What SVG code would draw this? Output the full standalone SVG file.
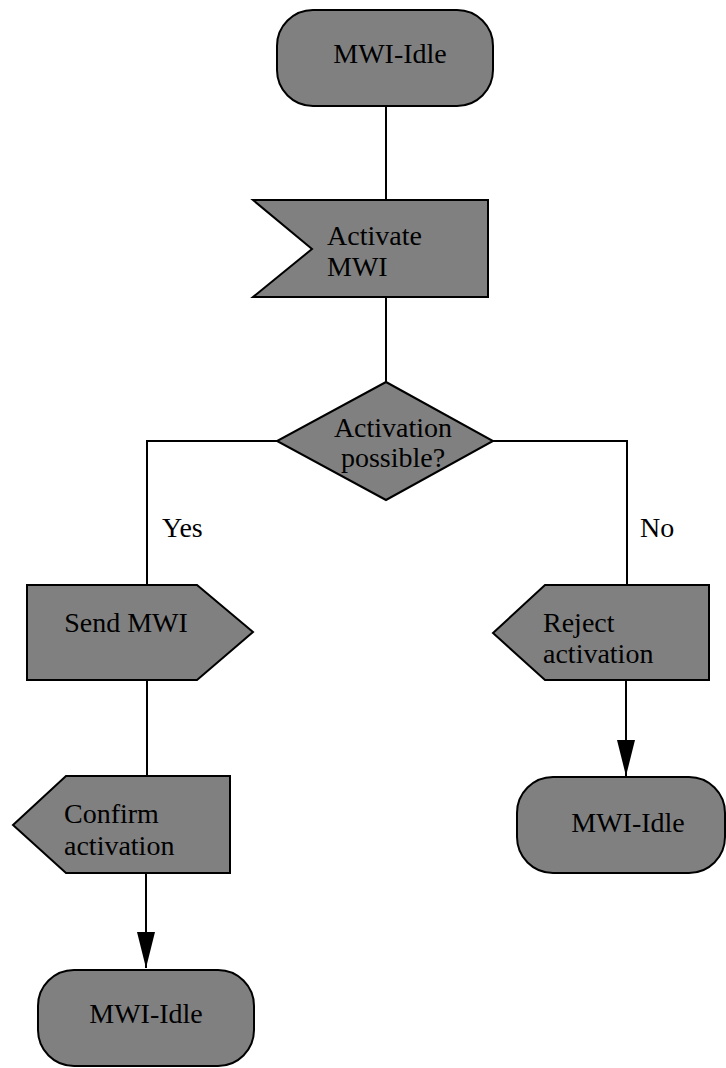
<svg xmlns="http://www.w3.org/2000/svg" width="726" height="1068" viewBox="0 0 726 1068">
<style>
.n{fill:#808080;stroke:#000;stroke-width:2}
.t{font-size:28px;fill:#000}
.c{text-anchor:middle}
.l{fill:none;stroke:#000;stroke-width:2}
</style>
<defs>
<marker id="ah" markerUnits="userSpaceOnUse" markerWidth="36" markerHeight="18" refX="36" refY="9" orient="auto" viewBox="0 0 36 18">
<path d="M0,0 L36,9 L0,18 z" fill="#000"/>
</marker>
</defs>
<rect width="726" height="1068" fill="#fff"/>
<g font-family="Liberation Serif">
<g id="connectors">
<path class="l" d="M386,106 V200"/>
<path class="l" d="M386,297 V382"/>
<path class="l" d="M277,441 H147 V585"/>
<path class="l" d="M493,441 H627 V585"/>
<path class="l" d="M147,680 V776"/>
<path class="l" d="M146,873 V968" marker-end="url(#ah)"/>
<path class="l" d="M626,680 V776" marker-end="url(#ah)"/>
<text class="t" x="162" y="537">Yes</text>
<text class="t" x="640" y="537">No</text>
</g>
<g id="idle1">
<rect class="n" x="277" y="10" width="216" height="96" rx="36" ry="36"/>
<text class="t c" x="390" y="63">MWI-Idle</text>
</g>
<g id="activate">
<polygon class="n" points="253,200 488,200 488,297 253,297 312,249"/>
<text class="t" x="327" y="245">Activate</text>
<text class="t" x="327" y="276">MWI</text>
</g>
<g id="decision">
<polygon class="n" points="386,382 493,441 386,500 277,441"/>
<text class="t c" x="393" y="437">Activation</text>
<text class="t c" x="393" y="467">possible?</text>
</g>
<g id="send">
<polygon class="n" points="27,585 197,585 253,632 197,680 27,680"/>
<text class="t c" x="126" y="632">Send MWI</text>
</g>
<g id="reject">
<polygon class="n" points="545,585 709,585 709,680 545,680 493,633"/>
<text class="t" x="543" y="632">Reject</text>
<text class="t" x="543" y="663">activation</text>
</g>
<g id="confirm">
<polygon class="n" points="66,776 230,776 230,873 66,873 13,825"/>
<text class="t" x="64" y="823">Confirm</text>
<text class="t" x="64" y="855">activation</text>
</g>
<g id="idle2">
<rect class="n" x="38" y="970" width="216" height="96" rx="36" ry="36"/>
<text class="t c" x="146" y="1023">MWI-Idle</text>
</g>
<g id="idle3">
<rect class="n" x="517" y="777" width="208" height="96" rx="36" ry="36"/>
<text class="t c" x="628" y="832">MWI-Idle</text>
</g>
</g>
</svg>
